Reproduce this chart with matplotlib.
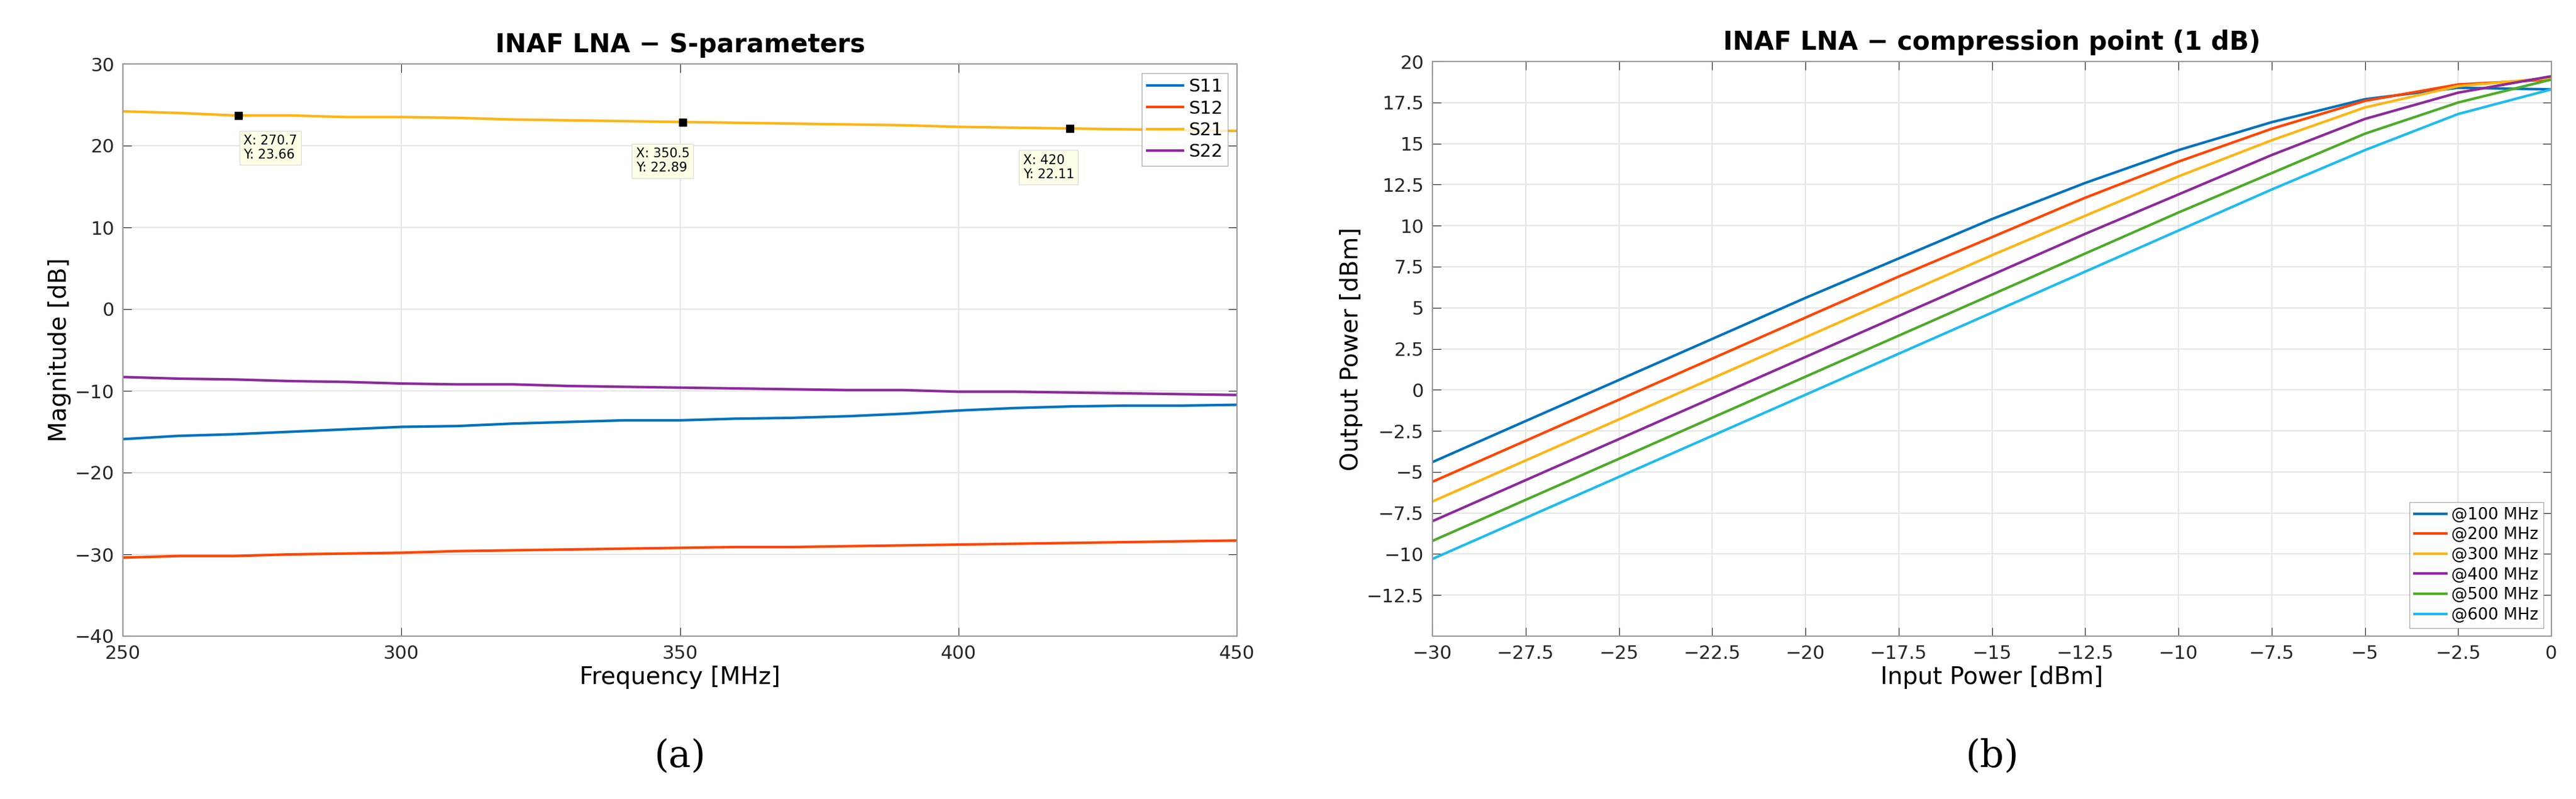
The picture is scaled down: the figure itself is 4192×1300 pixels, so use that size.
import matplotlib
matplotlib.use("Agg")
import matplotlib.pyplot as plt
import numpy as np

freq = [250,260,270,280,290,300,310,320,330,340,350,360,370,380,390,400,410,420,430,440,450]
s11 = [-15.9,-15.5,-15.3,-15.0,-14.7,-14.4,-14.3,-14.0,-13.8,-13.6,-13.6,-13.4,-13.3,-13.1,-12.8,-12.4,-12.1,-11.9,-11.8,-11.8,-11.7]
s12 = [-30.4,-30.2,-30.2,-30.0,-29.9,-29.8,-29.6,-29.5,-29.4,-29.3,-29.2,-29.1,-29.1,-29.0,-28.9,-28.8,-28.7,-28.6,-28.5,-28.4,-28.3]
s21 = [24.2,24.0,23.7,23.7,23.5,23.5,23.4,23.2,23.1,23.0,22.9,22.8,22.7,22.6,22.5,22.3,22.2,22.1,22.0,21.9,21.8]
s22 = [-8.3,-8.5,-8.6,-8.8,-8.9,-9.1,-9.2,-9.2,-9.4,-9.5,-9.6,-9.7,-9.8,-9.9,-9.9,-10.1,-10.1,-10.2,-10.3,-10.4,-10.5]
tip_x = [270.7, 350.5, 420]
tip_y = [23.66, 22.89, 22.11]

pin = [-30,-27.5,-25,-22.5,-20,-17.5,-15,-12.5,-10,-7.5,-5,-2.5,0]
p100 = [-4.4,-1.9,0.6,3.1,5.6,8.0,10.4,12.6,14.6,16.3,17.7,18.4,18.3]
p200 = [-5.6,-3.1,-0.6,1.9,4.4,6.9,9.3,11.7,13.9,15.9,17.6,18.6,18.9]
p300 = [-6.8,-4.3,-1.8,0.7,3.2,5.7,8.2,10.6,13.0,15.2,17.2,18.5,19.0]
p400 = [-8.0,-5.5,-3.0,-0.5,2.0,4.5,7.0,9.5,11.9,14.3,16.5,18.1,19.1]
p500 = [-9.2,-6.7,-4.2,-1.7,0.8,3.3,5.8,8.3,10.8,13.2,15.6,17.5,18.9]
p600 = [-10.3,-7.8,-5.3,-2.8,-0.3,2.2,4.7,7.2,9.7,12.2,14.6,16.8,18.3]
labels_b = ['@100 MHz','@200 MHz','@300 MHz','@400 MHz','@500 MHz','@600 MHz']

cols = ['#0072BD','#FF4500','#FDB515','#8B2A9A','#4DAA2A','#1EBBEE']
cols_a = ['#0072BD','#FF4500','#FDB515','#8B2A9A']

fig = plt.figure(figsize=(41.92,13), dpi=100)
ax1 = fig.add_axes([200/4192, 1-1035/1300, 1813/4192, 931/1300])
ax2 = fig.add_axes([2331/4192, 1-1035/1300, 1821/4192, 935/1300])

def style(ax):
    ax.grid(True, color='#e6e6e6', lw=1.5)
    ax.tick_params(labelsize=22, direction='in', length=10, top=True, right=True, colors='#262626', pad=10)
    for s in ax.spines.values():
        s.set_color('#999999'); s.set_linewidth(1.5)

for y, c, l in zip([s11,s12,s21,s22], cols_a, ['S11','S12','S21','S22']):
    ax1.plot(freq, y, color=c, lw=3, label=l)
ax1.plot(tip_x, tip_y, 's', color='k', ms=9)
offs = [(6,-22),(-55,-30),(-55,-30)]
for x, y, o in zip(tip_x, tip_y, offs):
    ax1.annotate(f"X: {x:g}\nY: {y:g}", (x, y), xytext=o, textcoords='offset points',
                 fontsize=15, va='top', ha='left',
                 bbox=dict(boxstyle='square,pad=0.3', fc='#ffffe6', ec='#dddddd'))
ax1.set_xlim(250,450); ax1.set_ylim(-40,30)
ax1.set_xticks([250,300,350,400,450]); ax1.set_yticks(range(-40,31,10))
ax1.set_yticklabels([str(v).replace('-','\u2212') for v in range(-40,31,10)])
style(ax1)
ax1.set_xlabel('Frequency [MHz]', fontsize=28)
ax1.set_ylabel('Magnitude [dB]', fontsize=28)
ax1.set_title('INAF LNA \u2212 S-parameters', fontsize=30, fontweight='bold', pad=14)
ax1.legend(loc='upper right', fontsize=21, handlelength=2, fancybox=False, edgecolor='#999999', borderpad=0.3, labelspacing=0.25, handletextpad=0.3)

for y, c, l in zip([p100,p200,p300,p400,p500,p600], cols, labels_b):
    ax2.plot(pin, y, color=c, lw=3, label=l)
ax2.set_xlim(-30,0); ax2.set_ylim(-15,20)
xt = np.arange(-30,0.1,2.5); yt = np.arange(-12.5,20.1,2.5)
ax2.set_xticks(xt); ax2.set_yticks(yt)
fmt = lambda v: ('%g' % v).replace('-','\u2212')
ax2.set_xticklabels([fmt(v) for v in xt]); ax2.set_yticklabels([fmt(v) for v in yt])
style(ax2)
ax2.set_xlabel('Input Power [dBm]', fontsize=28)
ax2.set_ylabel('Output Power [dBm]', fontsize=28)
ax2.set_title('INAF LNA \u2212 compression point (1 dB)', fontsize=30, fontweight='bold', pad=14)
ax2.legend(loc='lower right', fontsize=19, handlelength=2, fancybox=False, edgecolor='#999999', borderpad=0.3, labelspacing=0.25, handletextpad=0.3)

fig.text((200+2013)/2/4192, 1-1230/1300, '(a)', fontsize=44, family='DejaVu Serif', ha='center', va='center')
fig.text((2331+4152)/2/4192, 1-1230/1300, '(b)', fontsize=44, family='DejaVu Serif', ha='center', va='center')
fig.savefig('out.png', dpi=100, facecolor='white')
